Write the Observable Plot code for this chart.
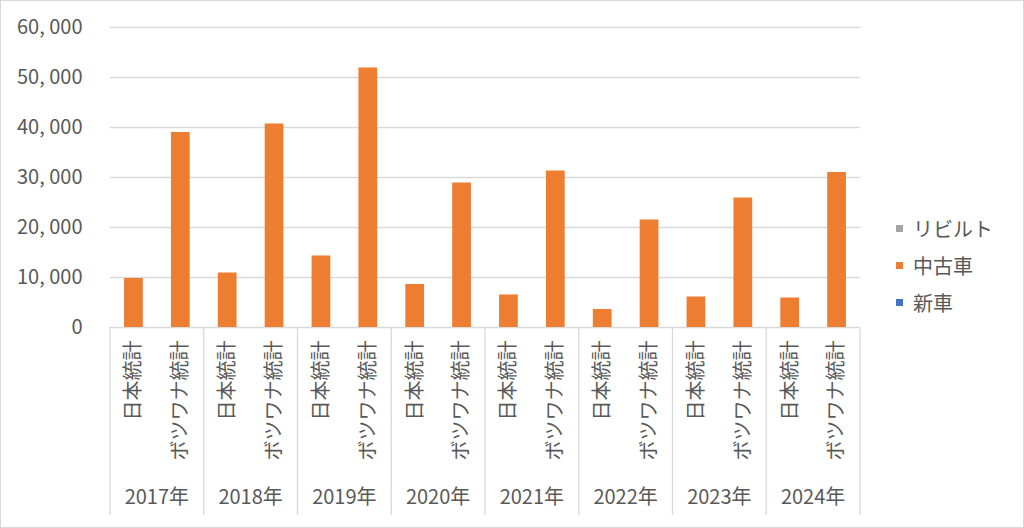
<!DOCTYPE html>
<html>
<head>
<meta charset="utf-8">
<script src="https://cdn.jsdelivr.net/npm/d3@7"></script>
<script src="https://cdn.jsdelivr.net/npm/@observablehq/plot@0.6"></script>
<style>
  html, body { margin: 0; padding: 0; background: #fff; }
  #wrap { position: relative; width: 1024px; height: 528px; overflow: hidden; }
  #frame { position: absolute; left: 0; top: 0; width: 1024px; height: 528px; box-sizing: border-box; border: 1px solid #d9d9d9; pointer-events: none; }
  #legend { position: absolute; left: 896px; top: 210px; font-family: 'Noto Sans CJK JP', sans-serif; font-size: 20px; color: #595959; }
  #legend .item { display: flex; align-items: center; height: 37px; }
  #legend .sw { width: 7px; height: 7px; margin-right: 10px; }
</style>
</head>
<body>
<div id="wrap"><div id="chart"></div><div id="legend"></div><div id="frame"></div></div>
<script>
const years = ["2017年", "2018年", "2019年", "2020年", "2021年", "2022年", "2023年", "2024年"];
const sources = ["日本統計", "ボツワナ統計"];
const seriesNames = ["リビルト", "中古車", "新車"];
const seriesColors = ["#A5A5A5", "#ED7D31", "#4472C4"];
// 中古車 (used cars)
const usedJapan    = [9800, 10900, 14300, 8600, 6500, 3600, 6100, 5900];
const usedBotswana = [39000, 40700, 51900, 28900, 31300, 21500, 25900, 31000];
// 新車 and リビルト show no visible bars
const newJapan        = [0, 0, 0, 0, 0, 0, 0, 0];
const newBotswana     = [0, 0, 0, 0, 0, 0, 0, 0];
const rebuiltJapan    = [0, 0, 0, 0, 0, 0, 0, 0];
const rebuiltBotswana = [0, 0, 0, 0, 0, 0, 0, 0];
const yTicks = [0, 10000, 20000, 30000, 40000, 50000, 60000];

const seriesData = {
  "新車": [newJapan, newBotswana],
  "中古車": [usedJapan, usedBotswana],
  "リビルト": [rebuiltJapan, rebuiltBotswana]
};
const stackOrder = ["新車", "中古車", "リビルト"];

const keyOf = (yr, src) => yr + "|" + src;
const keys = [];
const table = [];
years.forEach((yr, i) => {
  sources.forEach((src, j) => {
    keys.push(keyOf(yr, src));
    stackOrder.forEach(s => {
      table.push({key: keyOf(yr, src), year: yr, source: src, series: s, value: seriesData[s][j][i]});
    });
  });
});

const fmt = d => d3.format(",")(d).replace(/,/g, ", ");
const textColor = "#595959";
const lineColor = "#d9d9d9";

function yearRow(index, scales, values, dims) {
  const x = scales.x;
  const bw = x.bandwidth();
  const base = dims.height - dims.marginBottom;
  const g = d3.create("svg:g");
  years.forEach((yr, i) => {
    const c0 = x(keyOf(yr, sources[0])) + bw / 2;
    const c1 = x(keyOf(yr, sources[1])) + bw / 2;
    const step = c1 - c0;
    const left = c0 - step / 2;
    g.append("line").attr("x1", left).attr("x2", left).attr("y1", base).attr("y2", base + 188)
      .attr("stroke", lineColor).attr("stroke-width", 1.3);
    if (i === years.length - 1) {
      const right = c1 + step / 2;
      g.append("line").attr("x1", right).attr("x2", right).attr("y1", base).attr("y2", base + 188)
        .attr("stroke", lineColor).attr("stroke-width", 1.3);
    }
    g.append("text").attr("x", (c0 + c1) / 2).attr("y", base + 170).attr("dy", "0.35em")
      .attr("text-anchor", "middle").attr("fill", textColor).attr("font-size", 20).text(yr);
  });
  return g.node();
}

const chart = Plot.plot({
  width: 1024,
  height: 528,
  marginLeft: 110,
  marginRight: 164,
  marginTop: 27,
  marginBottom: 201,
  style: {fontFamily: "'Noto Sans CJK JP', sans-serif", fontSize: "20px", color: textColor, background: "transparent"},
  x: {domain: keys, paddingInner: 0.6, paddingOuter: 0.3, round: false, axis: null},
  y: {domain: [0, 60000], axis: null},
  color: {domain: seriesNames, range: seriesColors},
  marks: [
    Plot.gridY(yTicks, {stroke: lineColor, strokeOpacity: 1, strokeWidth: 1.3}),
    Plot.barY(table, Plot.stackY({x: "key", y: "value", fill: "series", order: stackOrder})),
    Plot.axisY(yTicks, {tickSize: 0, tickPadding: 28, tickFormat: fmt, fill: textColor, fontSize: 20, label: null}),
    Plot.axisX({tickRotate: -90, tickSize: 0, tickPadding: 13, tickFormat: d => d.split("|")[1], fill: textColor, fontSize: 20, label: null}),
    yearRow
  ]
});
document.getElementById("chart").appendChild(chart);

const legend = d3.select("#legend");
seriesNames.forEach((s, i) => {
  const it = legend.append("div").attr("class", "item");
  it.append("div").attr("class", "sw").style("background", seriesColors[i]);
  it.append("span").text(s);
});
</script>
</body>
</html>
